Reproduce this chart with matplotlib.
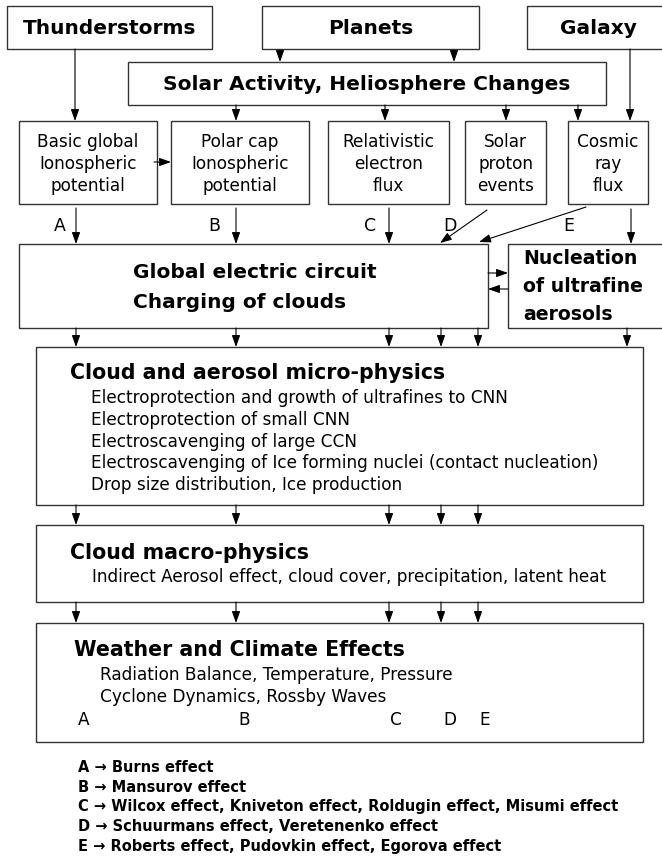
import matplotlib.pyplot as plt
from matplotlib.patches import Rectangle

# ---- texts (the "data" of the diagram) ----
top_sources = ['Thunderstorms', 'Planets', 'Galaxy']
solar_title = 'Solar Activity, Heliosphere Changes'
mid_boxes = ['Basic global\nIonospheric\npotential',
             'Polar cap\nIonospheric\npotential',
             'Relativistic\nelectron\nflux',
             'Solar\nproton\nevents',
             'Cosmic\nray\nflux']
path_letters = ['A', 'B', 'C', 'D', 'E']
circuit_lines = ['Global electric circuit', 'Charging of clouds']
nucleation_lines = ['Nucleation', 'of ultrafine', 'aerosols']
micro_title = 'Cloud and aerosol micro-physics'
micro_items = ['Electroprotection and growth of ultrafines to CNN',
               'Electroprotection of small CNN',
               'Electroscavenging of large CCN',
               'Electroscavenging of Ice forming nuclei (contact nucleation)',
               'Drop size distribution, Ice production']
macro_title = 'Cloud macro-physics'
macro_items = ['Indirect Aerosol effect, cloud cover, precipitation, latent heat']
weather_title = 'Weather and Climate Effects'
weather_items = ['Radiation Balance, Temperature, Pressure',
                 'Cyclone Dynamics, Rossby Waves']
effects = ['Burns effect',
           'Mansurov effect',
           'Wilcox effect, Kniveton effect, Roldugin effect, Misumi effect',
           'Schuurmans effect, Veretenenko effect',
           'Roberts effect, Pudovkin effect, Egorova effect']

# ---- layout in pixel units (x right, y down) ----
W, H = 662, 858
top_box_x = [(7, 212), (262, 479), (527, 666)]
top_box_y = (6, 49)
solar_box = (128, 62, 606, 105)
mid_box_x = [(19, 157), (171, 309), (328, 449), (465, 546), (568, 648)]
mid_box_y = (121, 204)
circuit_box = (19, 244, 488, 328)
nucl_box = (508, 244, 666, 328)
micro_box = (36, 347, 643, 505)
macro_box = (36, 525, 643, 602)
weather_box = (36, 623, 643, 742)
channel_x = [76, 236, 389, 441, 478]   # A..E paths through the lower boxes
edge = '#333333'

fs_head = 14.5
fs_sect = 14.8
fs_body = 12.2
fs_legend = 10.5

fig = plt.figure(figsize=(W / 100, H / 100), dpi=100)
ax = fig.add_axes([0, 0, 1, 1])
ax.set_xlim(0, W)
ax.set_ylim(H, 0)
ax.axis('off')


def box(x0, y0, x1, y1):
    ax.add_patch(Rectangle((x0, y0), x1 - x0, y1 - y0, fill=False,
                           edgecolor=edge, linewidth=1.0))


def arrow(x0, y0, x1, y1):
    ax.annotate('', xy=(x1, y1), xytext=(x0, y0),
                arrowprops=dict(arrowstyle='-|>,head_length=0.7,head_width=0.25',
                                color='black', lw=0.8, mutation_scale=10,
                                shrinkA=0, shrinkB=0))


# top sources
for (x0, x1), name in zip(top_box_x, top_sources):
    box(x0, top_box_y[0], x1, top_box_y[1])
    cx = (x0 + min(x1, W)) / 2 + (4 if x1 > W else 0)
    ax.text(cx, 28, name, ha='center', va='center', fontsize=fs_head, fontweight='bold')

# solar box
box(*solar_box)
ax.text((solar_box[0] + solar_box[2]) / 2, 85, solar_title, ha='center', va='center',
        fontsize=fs_head, fontweight='bold')

# middle row
for (x0, x1), txt in zip(mid_box_x, mid_boxes):
    box(x0, mid_box_y[0], x1, mid_box_y[1])
    ax.text((x0 + x1) / 2, 164, txt, ha='center', va='center', fontsize=fs_body,
            linespacing=1.27)

# arrows in top part
arrow(75, top_box_y[1], 75, mid_box_y[0])            # thunderstorms
arrow(280, top_box_y[1] + 1, 280, solar_box[1])      # planets
arrow(454, top_box_y[1] + 1, 454, solar_box[1])
arrow(630, top_box_y[1], 630, mid_box_y[0])          # galaxy
for x in [236, 385, 506, 578]:
    arrow(x, solar_box[3], x, mid_box_y[0])
arrow(154, 162, mid_box_x[1][0], 162)                # basic -> polar

# letters and arrows into circuit
letter_x = [60, 214, 370, 450, 569]
for lx, lt in zip(letter_x, path_letters):
    ax.text(lx, 226, lt, ha='center', va='center', fontsize=12.5)
for x in channel_x[:3]:
    arrow(x, 208, x, circuit_box[1])
arrow(487, 210, 440, 243)
arrow(586, 207, 479, 242)
arrow(631, 209, 631, nucl_box[1])

# circuit & nucleation
box(*circuit_box)
for y, line in zip([273, 302], circuit_lines):
    ax.text(133, y, line, ha='left', va='center', fontsize=fs_head, fontweight='bold')
box(*nucl_box)
for y, line in zip([259, 287, 315], nucleation_lines):
    ax.text(523, y, line, ha='left', va='center', fontsize=13.6, fontweight='bold')
arrow(circuit_box[2], 273, nucl_box[0], 273)
arrow(nucl_box[0], 289, circuit_box[2], 289)

# lower chain
for x in channel_x:
    arrow(x, circuit_box[3], x, micro_box[1])
    arrow(x, micro_box[3], x, macro_box[1])
    arrow(x, macro_box[3], x, weather_box[1])
arrow(627, nucl_box[3], 627, micro_box[1])

box(*micro_box)
ax.text(70, 373, micro_title, ha='left', va='center', fontsize=fs_sect, fontweight='bold')
for i, item in enumerate(micro_items):
    ax.text(91, 398 + 21.8 * i, item, ha='left', va='center', fontsize=fs_body)

box(*macro_box)
ax.text(70, 553, macro_title, ha='left', va='center', fontsize=fs_sect, fontweight='bold')
for i, item in enumerate(macro_items):
    ax.text(92, 577 + 22 * i, item, ha='left', va='center', fontsize=fs_body)

box(*weather_box)
ax.text(74, 650, weather_title, ha='left', va='center', fontsize=fs_sect, fontweight='bold')
for i, item in enumerate(weather_items):
    ax.text(100, 675 + 22 * i, item, ha='left', va='center', fontsize=fs_body)
weather_letter_x = [78, 238, 390, 443, 479]
for lx, lt in zip(weather_letter_x, path_letters):
    ax.text(lx, 720, lt, ha='left', va='center', fontsize=fs_body)

# effects legend
for i, (lt, eff) in enumerate(zip(path_letters, effects)):
    ax.text(78, 768 + 19.5 * i, f'{lt} \u2192 {eff}', ha='left', va='center',
            fontsize=fs_legend, fontweight='bold')

fig.savefig('out.png', dpi=100)
